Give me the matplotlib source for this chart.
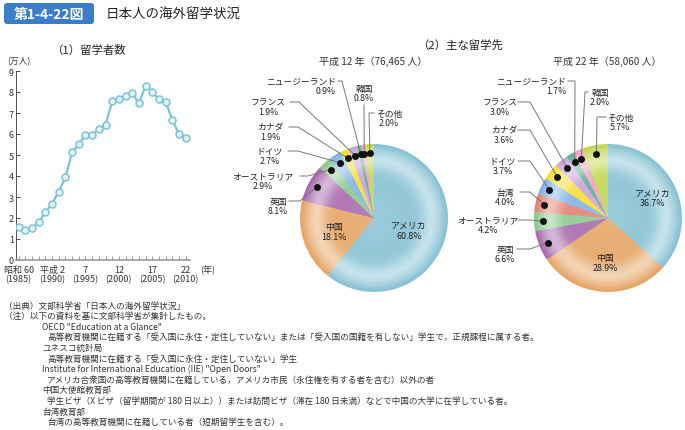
import numpy as np
import matplotlib
matplotlib.use("Agg")
import matplotlib.pyplot as plt
import matplotlib.colors as mcolors
from matplotlib.patches import FancyBboxPatch

plt.rcParams['font.family'] = ['Noto Sans CJK JP', 'DejaVu Sans']

# ---- data ----
years = list(range(1985, 2011))
students = [1.55, 1.43, 1.53, 1.79, 2.28, 2.69, 3.26, 3.93, 5.13, 5.51, 5.95,
            5.95, 6.23, 6.43, 7.56, 7.65, 7.82, 7.95, 7.46, 8.29, 8.00, 7.65,
            7.52, 6.68, 5.99, 5.81]
tick_years = [1985, 1990, 1995, 2000, 2005, 2010]
tick_labels = ['昭和 60\n(1985)', '平成 2\n(1990)', '7\n(1995)',
               '12\n(2000)', '17\n(2005)', '22\n(2010)']

names_h12 = ['アメリカ', '中国', '英国', 'オーストラリア', 'ドイツ', 'カナダ',
             'フランス', 'ニュージーランド', '韓国', 'その他']
share_h12 = [60.8, 18.1, 8.1, 2.9, 2.7, 1.9, 1.9, 0.9, 0.8, 2.0]

names_h22 = ['アメリカ', '中国', '英国', 'オーストラリア', '台湾', 'ドイツ', 'カナダ',
             'フランス', 'ニュージーランド', '韓国', 'その他']
share_h22 = [36.7, 28.9, 6.6, 4.2, 4.0, 3.7, 3.6, 3.0, 1.7, 2.0, 5.7]

colors = {'アメリカ': '#84c0d3', '中国': '#e4a160', '英国': '#a565ab',
          'オーストラリア': '#88c68a', 'ドイツ': '#7db0e6', 'カナダ': '#f6dc2c',
          'フランス': '#c99ed6', 'ニュージーランド': '#4fae8a', '韓国': '#ee9cc0',
          'その他': '#c0d548', '台湾': '#e47d6a'}

notes = [
    (4, '（出典）文部科学省「日本人の海外留学状況」'),
    (4, '（注）以下の資料を基に文部科学省が集計したもの。'),
    (42, 'OECD "Education at a Glance"'),
    (47, '高等教育機関に在籍する「受入国に永住・定住していない」または「受入国の国籍を有しない」学生で，正規課程に属する者。'),
    (42, 'ユネスコ統計局'),
    (47, '高等教育機関に在籍する「受入国に永住・定住していない」学生'),
    (42, 'Institute for International Education (IIE) "Open Doors"'),
    (47, 'アメリカ合衆国の高等教育機関に在籍している，アメリカ市民（永住権を有する者を含む）以外の者'),
    (42, '中国大使館教育部'),
    (47, '学生ビザ（X ビザ（留学期間が 180 日以上））または訪問ビザ（滞在 180 日未満）などで中国の大学に在学している者。'),
    (42, '台湾教育部'),
    (47, '台湾の高等教育機関に在籍している者（短期留学生を含む）。'),
]

W, H = 685, 431
fig = plt.figure(figsize=(W / 100, H / 100), dpi=100)

# overlay axes in pixel units (y measured from top via H - y)
ov = fig.add_axes([0, 0, 1, 1])
ov.set_xlim(0, W)
ov.set_ylim(0, H)
ov.axis('off')


def txt(x, y, s, **kw):
    ov.text(x, H - y, s, **kw)


# header
ov.add_patch(FancyBboxPatch((4, H - 25), 90, 21, boxstyle='round,pad=0,rounding_size=3',
                            fc='#3b7dc8', ec='none'))
txt(49, 14.5, '第1-4-22図', color='white', fontsize=10, fontweight='bold',
    ha='center', va='center')
txt(106, 14, '日本人の海外留学状況', fontsize=9.7, ha='left', va='center', color='#222')

# ---- (1) line chart ----
txt(88, 50, '（1）留学者数', fontsize=8.2, ha='center', va='center', color='#222')
txt(19, 62, '(万人)', fontsize=6.3, ha='center', va='center', color='#333')

ax = fig.add_axes([16 / W, (H - 261) / H, 174 / W, 189 / H])
ax.plot(years, students, color='#7cc3d7', lw=1.6, marker='o', ms=5,
        mfc='#e4f3f8', mec='#7cc3d7', mew=1.1, zorder=3)
ax.set_xlim(1984.6, 2010.65)
ax.set_ylim(0, 9)
ax.set_yticks(range(0, 10))
ax.set_xticks(years, minor=True)
ax.set_xticks(tick_years)
ax.set_xticklabels(tick_labels, fontsize=6.5, linespacing=1.0, color='#333')
ax.tick_params(axis='y', direction='in', length=3, width=0.6, labelsize=6.5,
               pad=1.5, colors='#333')
ax.tick_params(axis='x', which='both', direction='in', length=3, width=0.6,
               color='#888', pad=3.5)
for s in ['top', 'right']:
    ax.spines[s].set_visible(False)
ax.spines['left'].set_color('#333')
ax.spines['left'].set_linewidth(0.6)
ax.spines['bottom'].set_color('#999')
ax.spines['bottom'].set_linewidth(1.2)
ax.patch.set_alpha(0)
txt(208, 270, '(年)', fontsize=6.5, ha='center', va='center', color='#333')

# ---- (2) pies ----
txt(460, 45, '（2）主な留学先', fontsize=8.2, ha='center', va='center', color='#222')
txt(373, 62, '平成 12 年（76,465 人）', fontsize=7.2, ha='center', va='center', color='#333')
txt(607, 62, '平成 22 年（58,060 人）', fontsize=7.2, ha='center', va='center', color='#333')

R = 74


def shade(c, t):
    rgb = np.array(mcolors.to_rgb(c))
    w = 0.45 * np.exp(-((t - 0.8) / 0.14) ** 2) + 0.12 * (1 - t) + 0.06
    w -= 0.08 * max(0, t - 0.93) / 0.07
    w = min(max(w, 0), 1)
    return tuple(rgb + (1 - rgb) * w)


def draw_pie(names, vals, cx, cy, layout, inner_r):
    cols = [colors[n] for n in names]
    wedges = None
    for t in np.linspace(1, 0.03, 30):
        w, _ = ov.pie(vals, radius=R * t, center=(cx, H - cy), startangle=90,
                      counterclock=False, colors=[shade(c, t) for c in cols],
                      wedgeprops=dict(linewidth=0), frame=True)
        if wedges is None:
            wedges = w
    for n, v, wd in zip(names, vals, wedges):
        mid = np.deg2rad((wd.theta1 + wd.theta2) / 2)
        if n in inner_r:
            f = inner_r[n]
            ov.text(cx + f * R * np.cos(mid), H - cy + f * R * np.sin(mid),
                    f'{n}\n{v:.1f}%', fontsize=6.4, ha='center', va='center',
                    linespacing=1.1, color='#222')
            continue
        dx = cx + 0.88 * R * np.cos(mid)
        dy = H - cy + 0.88 * R * np.sin(mid)
        tx, ty, ha, path = layout[n]
        txt(tx, ty, f'{n}\n{v:.1f}%', fontsize=6.3, ha=ha, va='center',
            ma=ha, linespacing=1.1, color='#222')
        xs = [p[0] for p in path] + [dx]
        ys = [H - p[1] for p in path] + [dy]
        ov.plot(xs, ys, color='#777', lw=0.7, zorder=5)
        ov.plot([dx], [dy], 'o', color='#111', ms=4, zorder=6)


layout_h12 = {
    'ニュージーランド': (336, 87, 'right', [(338, 82), (342, 82)]),
    '韓国': (364, 94, 'center', [(364, 106)]),
    'その他': (389, 119, 'center', [(374, 114), (369, 114)]),
    'フランス': (268, 108, 'center', [(290, 103), (299, 103)]),
    'カナダ': (270, 133, 'center', [(289, 128), (298, 128)]),
    'ドイツ': (270, 157, 'center', [(288, 152), (298, 152)]),
    'オーストラリア': (263, 182, 'center', [(300, 177), (308, 177)]),
    '英国': (278, 207, 'center', [(289, 202), (300, 202)]),
}
layout_h22 = {
    'ニュージーランド': (566, 87, 'right', [(568, 82), (575, 82)]),
    '韓国': (600, 98, 'center', [(588, 93), (585, 93)]),
    'その他': (620, 123, 'center', [(606, 118), (597, 118)]),
    'フランス': (500, 108, 'center', [(518, 103), (530, 103)]),
    'カナダ': (504, 136, 'center', [(518, 131), (530, 131)]),
    'ドイツ': (503, 167, 'center', [(518, 162), (530, 162)]),
    '台湾': (505, 198, 'center', [(520, 193), (530, 193)]),
    'オーストラリア': (488, 226, 'center', [(518, 221), (530, 221)]),
    '英国': (505, 255, 'center', [(517, 250), (530, 250)]),
}

draw_pie(names_h12, share_h12, 374, 219, layout_h12, {'アメリカ': 0.5, '中国': 0.57})
draw_pie(names_h22, share_h22, 608, 219, layout_h22, {'アメリカ': 0.66, '中国': 0.6})

ov.set_xlim(0, W)
ov.set_ylim(0, H)
ov.set_aspect('auto')
ov.axis('off')

# ---- footnotes ----
for i, (x, line) in enumerate(notes):
    txt(x, 306 + i * 10.6, line, fontsize=6.2, ha='left', va='center', color='#333')

fig.savefig('out.png', dpi=100)
